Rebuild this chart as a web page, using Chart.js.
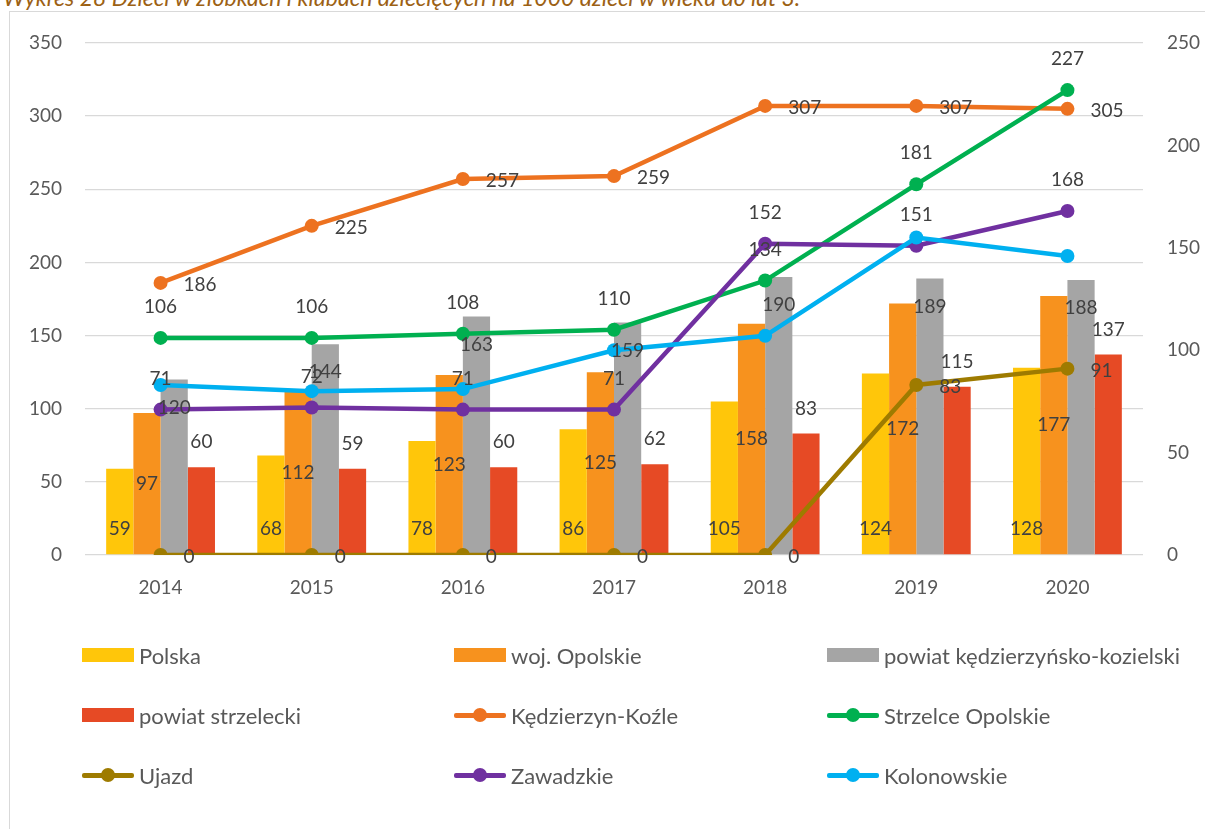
<!DOCTYPE html>
<html lang="pl">
<head>
<meta charset="utf-8">
<title>Dzieci w żłobkach i klubach dziecięcych</title>
<script src="https://cdn.jsdelivr.net/npm/chart.js@4/dist/chart.umd.min.js"></script>
<style>
  html, body { margin: 0; padding: 0; background: #fff; }
  body { width: 1205px; height: 829px; position: relative; overflow: hidden; font-family: Lato, "Open Sans", sans-serif; }
  #title { position: absolute; left: 3px; top: -14px; font-style: italic; font-size: 23px; color: #9c6114; white-space: nowrap; line-height: 1; }
  #frame { position: absolute; left: 9px; top: 11px; width: 1210px; height: 830px; border: 1px solid #d9d9d9; box-sizing: border-box; }
  #wrap { position: absolute; left: 0; top: 0; width: 1205px; height: 829px; }
  .leg { position: absolute; height: 24px; display: flex; align-items: center; font-size: 22px; color: #595959; white-space: nowrap; }
  .leg .mk { position: relative; width: 52px; height: 20px; margin-right: 5px; }
  .leg .box { position: absolute; left: 0; top: 3px; width: 52px; height: 14px; }
  .leg .ln { position: absolute; left: 0; top: 8px; width: 52px; height: 5px; border-radius: 2px; }
  .leg .dot { position: absolute; left: 19px; top: 3px; width: 14px; height: 14px; border-radius: 50%; }
</style>
</head>
<body>
<div id="title">Wykres 28 Dzieci w żłobkach i klubach dziecięcych na 1000 dzieci w wieku do lat 3.</div>
<div id="frame"></div>
<div id="wrap"><canvas id="chart" width="1205" height="829"></canvas></div>
<div id="legend"></div>
<script>
// ---------- Data ----------

const years = ['2014', '2015', '2016', '2017', '2018', '2019', '2020'];

// slupki (lewa os)
const polska       = [59, 68, 78, 86, 105, 124, 128];
const wojOpolskie  = [97, 112, 123, 125, 158, 172, 177];
const powiatKK     = [120, 144, 163, 159, 190, 189, 188];
const powiatStrz   = [60, 59, 60, 62, 83, 115, 137];

// linie
const kedzierzyn   = [186, 225, 257, 259, 307, 307, 305]; // lewa os
const strzelce     = [106, 106, 108, 110, 134, 181, 227]; // prawa os
const ujazd        = [0, 0, 0, 0, 0, 83, 91];
const zawadzkie    = [71, 72, 71, 71, 152, 151, 168];
const kolonowskie  = [83, 80, 81, 100, 107, 155, 146];

const leftTicks  = [0, 50, 100, 150, 200, 250, 300, 350];
const rightTicks = [0, 50, 100, 150, 200, 250];

const FONT = 'Lato, "Open Sans", sans-serif';

// ---------- Datasets ----------

function bar(label, data, color, labelPos) {
  return { type: 'bar', label, data, backgroundColor: color, borderWidth: 0,
           yAxisID: 'y', order: 10, labelPos };
}

function line(label, data, color, axis, order, labelPos) {
  return { type: 'line', label, data, borderColor: color, backgroundColor: color,
           borderWidth: 4.5, pointRadius: 7, pointHoverRadius: 7, pointBorderWidth: 0,
           tension: 0, yAxisID: axis, order, labelPos };
}

const datasets = [
  bar('Polska', polska, '#ffc60a', 'base'),
  bar('woj. Opolskie', wojOpolskie, '#f7921e', 'center'),
  bar('powiat kędzierzyńsko-kozielski', powiatKK, '#a5a5a5', 'insideEnd'),
  bar('powiat strzelecki', powiatStrz, '#e64a25', 'outsideEnd'),
  line('Kędzierzyn-Koźle', kedzierzyn, '#ed7220', 'y', 5, 'right'),
  line('Strzelce Opolskie', strzelce, '#00b050', 'y1', 4, 'above'),
  line('Ujazd', ujazd, '#9e7b00', 'y1', 3, 'right'),
  line('Zawadzkie', zawadzkie, '#7030a0', 'y1', 2, 'above'),
  line('Kolonowskie', kolonowskie, '#00b0f0', 'y1', 1, null),
];

// ---------- Data labels ----------

const dataLabels = {
  id: 'dataLabels',
  afterDatasetsDraw(chart) {
    const ctx = chart.ctx;
    ctx.save();
    ctx.font = '19px ' + FONT;
    ctx.fillStyle = '#404040';
    ctx.textBaseline = 'middle';
    chart.data.datasets.forEach((ds, i) => {
      if (!ds.labelPos) return;
      const meta = chart.getDatasetMeta(i);
      meta.data.forEach((el, j) => {
        const v = ds.data[j];
        let x = el.x, y = el.y;
        ctx.textAlign = 'center';
        switch (ds.labelPos) {
          case 'base': y = el.base - 25; break;
          case 'center': y = (el.y + el.base) / 2; break;
          case 'insideEnd': y = el.y + 28; break;
          case 'outsideEnd': y = el.y - 25; break;
          case 'above': y = el.y - 31; break;
          case 'right': x = el.x + 23; y = el.y + 2; ctx.textAlign = 'left'; break;
        }
        ctx.fillText(String(v), x, y);
      });
    });
    ctx.restore();
  },
};

// ---------- Chart ----------

const tickFont = { family: FONT, size: 19 };

new Chart(document.getElementById('chart'), {
  type: 'bar',
  data: { labels: years, datasets },
  options: {
    responsive: false,
    animation: false,
    categoryPercentage: 0.72,
    barPercentage: 1.0,
    layout: { padding: { top: 43, left: 0, right: 0, bottom: 829 - 612 } },
    plugins: { legend: { display: false }, tooltip: { enabled: false } },
    scales: {
      x: {
        grid: { display: false },
        border: { display: false },
        ticks: { color: '#595959', font: tickFont, padding: 13 },
        afterFit: (s) => { s.height = 57; },
      },
      y: {
        position: 'left',
        min: 0, max: 350,
        afterBuildTicks: (s) => { s.ticks = leftTicks.map(v => ({ value: v })); },
        grid: { color: '#d9d9d9', lineWidth: 1.3, drawTicks: false },
        border: { display: false },
        ticks: { color: '#595959', font: tickFont, padding: 23 },
        afterFit: (s) => { s.width = 85; },
      },
      y1: {
        position: 'right',
        min: 0, max: 250,
        afterBuildTicks: (s) => { s.ticks = rightTicks.map(v => ({ value: v })); },
        grid: { display: false, drawTicks: false },
        border: { display: false },
        ticks: { color: '#595959', font: tickFont, padding: 24 },
        afterFit: (s) => { s.width = 62; },
      },
    },
  },
  plugins: [dataLabels],
});

// ---------- Legend (3 kolumny) ----------

const legendCols = [82, 454, 827];
const legendRows = [655, 715, 775];

const legend = document.getElementById('legend');
datasets.forEach((ds, i) => {
  const item = document.createElement('div');
  item.className = 'leg';
  item.style.left = legendCols[i % 3] + 'px';
  item.style.top = (legendRows[Math.floor(i / 3)] - 12) + 'px';
  const color = ds.type === 'bar' ? ds.backgroundColor : ds.borderColor;
  const mk = ds.type === 'bar'
    ? `<div class="box" style="background:${color}"></div>`
    : `<div class="ln" style="background:${color}"></div><div class="dot" style="background:${color}"></div>`;
  item.innerHTML = `<div class="mk">${mk}</div><span>${ds.label}</span>`;
  legend.appendChild(item);
});
</script>
</body>
</html>
